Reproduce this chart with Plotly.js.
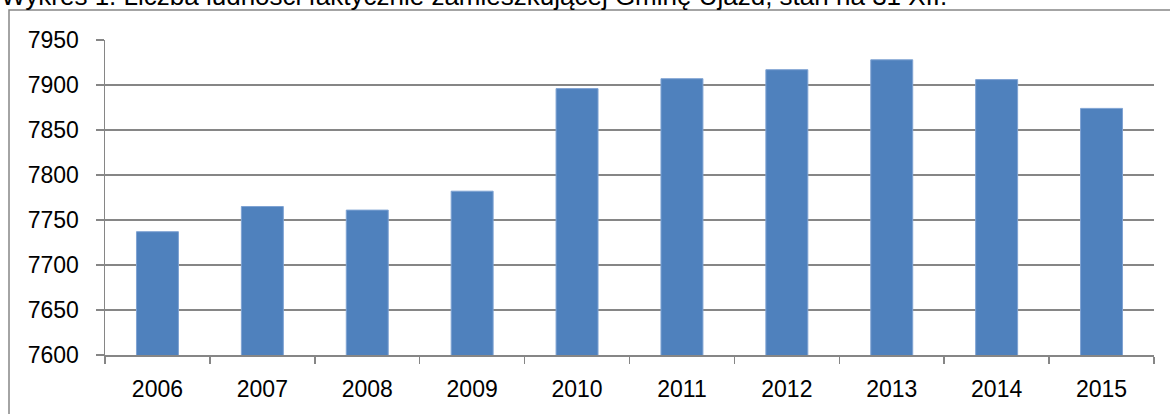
<!DOCTYPE html>
<html>
<head>
<meta charset="utf-8">
<script src="https://cdn.plot.ly/plotly-3.0.1.min.js"></script>
<style>html,body{margin:0;padding:0;background:#fff;}#chart{width:1170px;height:414px;}</style>
</head>
<body>
<div id="chart"></div>
<script>
const titleText = "Wykres 1. Liczba ludności faktycznie zamieszkującej Gminę Ujazd, stan na 31 XII.";
const years = ["2006","2007","2008","2009","2010","2011","2012","2013","2014","2015"];
const population = [7737, 7765, 7761, 7782, 7896, 7907, 7917, 7928, 7906, 7874];
const yTicks = [7600, 7650, 7700, 7750, 7800, 7850, 7900, 7950];

const W = 1170, H = 414;
const mL = 105, mR = 16, mT = 40, mB = 59;
const pw = W - mL - mR, ph = H - mT - mB;
const px = v => (v - mL) / pw;
const py = v => (H - mB - v) / ph;

const gray = "#868686";
const font = {family: "Liberation Sans, Arial, sans-serif", size: 23, color: "#000"};

const data = [{
  type: "bar",
  x: years,
  y: population,
  marker: {color: "#4F81BD", line: {color: "#7FA3D3", width: 1}},
  hoverinfo: "x+y"
}];

const layout = {
  width: W, height: H,
  margin: {l: mL, r: mR, t: mT, b: mB, pad: 0},
  paper_bgcolor: "#fff", plot_bgcolor: "#fff",
  showlegend: false,
  bargap: 0.6,
  font: font,
  xaxis: {
    type: "category",
    showgrid: false,
    showline: true, linecolor: gray, linewidth: 1.5,
    ticks: "outside", tickson: "boundaries", ticklen: 7, tickcolor: gray, tickwidth: 1.5,
    tickfont: font,
    ticklabelstandoff: 13,
    fixedrange: true
  },
  yaxis: {
    range: [7600, 7950],
    tickvals: yTicks,
    showgrid: true, gridcolor: gray, gridwidth: 1.5,
    showline: true, linecolor: gray, linewidth: 1.5,
    ticks: "outside", ticklen: 8, tickcolor: gray, tickwidth: 1.5,
    tickfont: font,
    ticklabelstandoff: 12,
    zeroline: false,
    fixedrange: true
  },
  shapes: [{
    type: "rect", xref: "paper", yref: "paper",
    x0: px(9), x1: px(1180), y0: py(425), y1: py(10),
    line: {color: gray, width: 1.5}, fillcolor: "rgba(0,0,0,0)", layer: "below"
  }],
  annotations: [{
    text: titleText, xref: "paper", yref: "paper",
    x: px(-1), y: 1, xanchor: "left", yanchor: "bottom",
    yshift: 27, showarrow: false,
    font: {family: "Liberation Sans, Arial, sans-serif", size: 26, color: "#000"}
  }]
};

Plotly.newPlot("chart", data, layout, {displayModeBar: false, staticPlot: true});
</script>
</body>
</html>
